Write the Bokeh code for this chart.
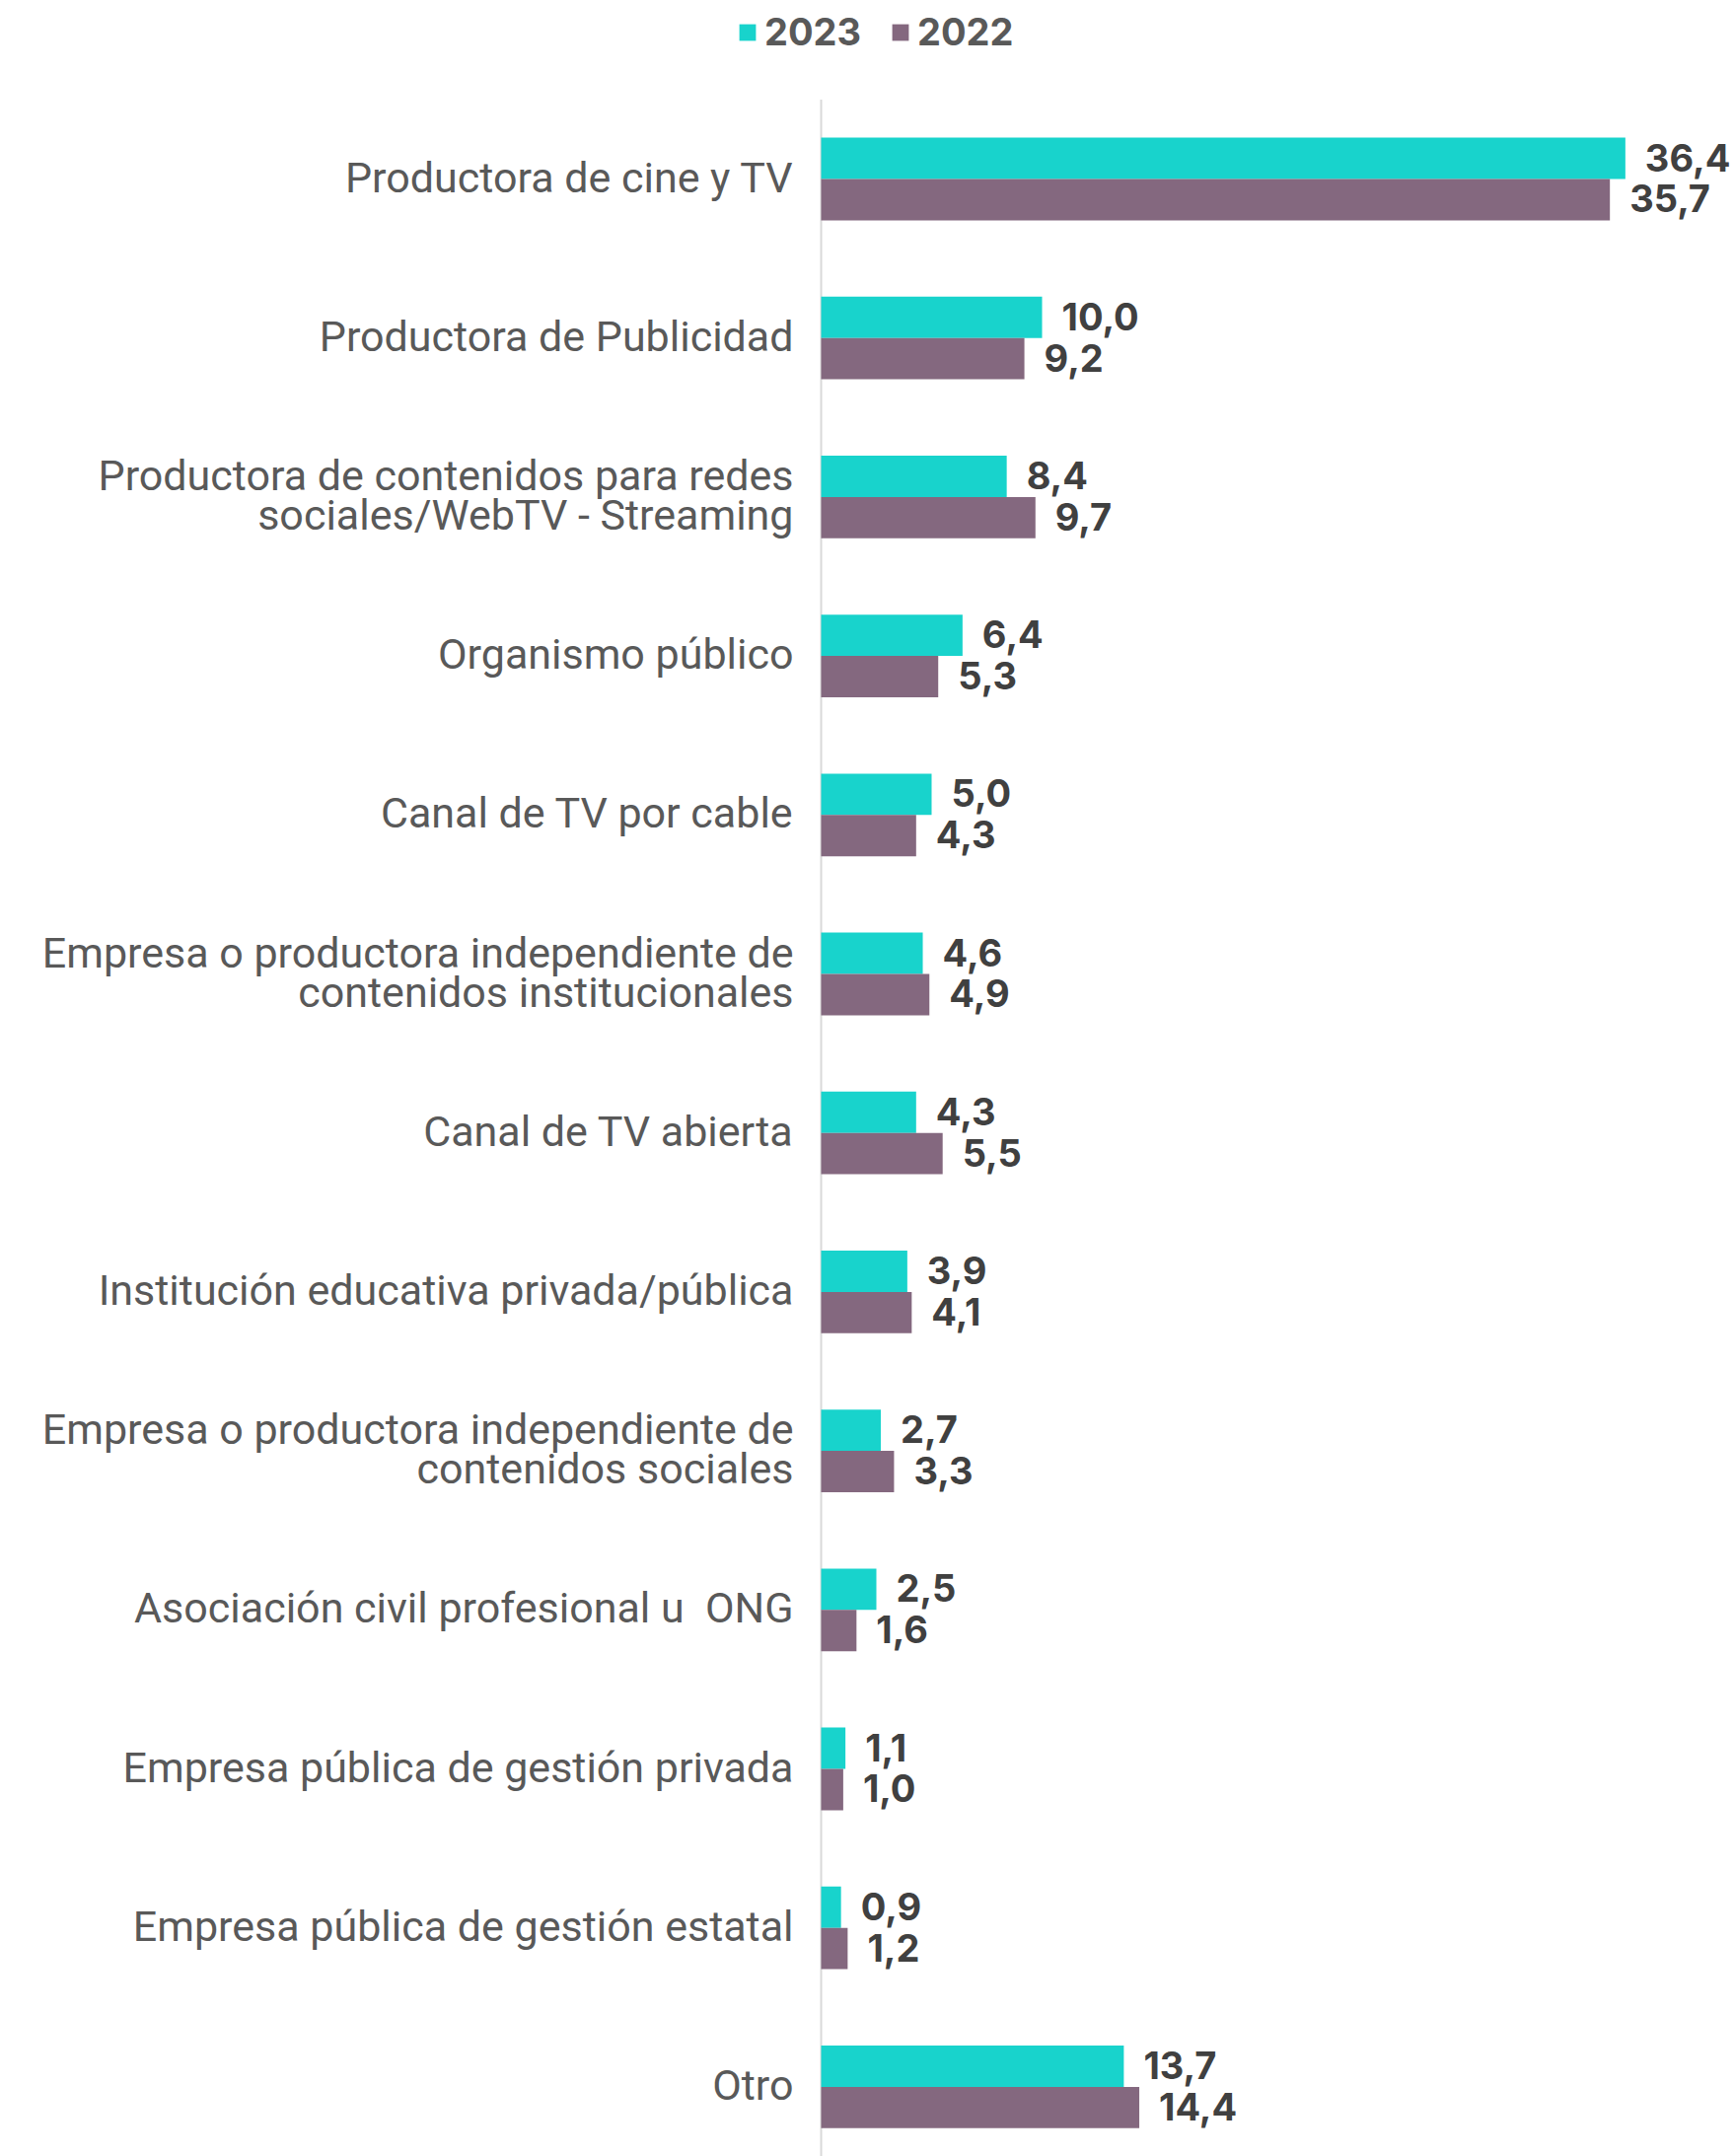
from bokeh.plotting import figure
from bokeh.models import ColumnDataSource, Range1d, Legend, LegendItem
from bokeh.core.properties import value
from bokeh.embed import file_html
from bokeh.resources import INLINE

# ---- data ----
categories = [
    "Productora de cine y TV",
    "Productora de Publicidad",
    "Productora de contenidos para redes\nsociales/WebTV - Streaming",
    "Organismo público",
    "Canal de TV por cable",
    "Empresa o productora independiente de\ncontenidos institucionales",
    "Canal de TV abierta",
    "Institución educativa privada/pública",
    "Empresa o productora independiente de\ncontenidos sociales",
    "Asociación civil profesional u \u00a0ONG",
    "Empresa pública de gestión privada",
    "Empresa pública de gestión estatal",
    "Otro",
]
series_names = ["2023", "2022"]
values_2023 = [36.4, 10.0, 8.4, 6.4, 5.0, 4.6, 4.3, 3.9, 2.7, 2.5, 1.1, 0.9, 13.7]
values_2022 = [35.7, 9.2, 9.7, 5.3, 4.3, 4.9, 5.5, 4.1, 3.3, 1.6, 1.0, 1.2, 14.4]

# ---- style ----
TEAL = "#18d3cc"
PURPLE = "#84687f"
CAT_COLOR = "#595959"
VAL_COLOR = "#404040"
BAR_H = 0.26

W, H = 1758, 2186
PX_PER_UNIT = 22.4
AXIS_X = 832              # canvas px of the zero line
CAT_PITCH = 161.2
FIRST_CENTER = 181        # canvas px of first category centre

x0 = -AXIS_X / PX_PER_UNIT
x1 = x0 + W / PX_PER_UNIT
y_top = -FIRST_CENTER / CAT_PITCH
y_bottom = (H - FIRST_CENTER) / CAT_PITCH

idx = list(range(len(categories)))
fmt = lambda v: f"{v:.1f}".replace(".", ",")

src23 = ColumnDataSource(dict(y=[i - BAR_H / 2 for i in idx], x=values_2023,
                              lab=[fmt(v) for v in values_2023]))
src22 = ColumnDataSource(dict(y=[i + BAR_H / 2 for i in idx], x=values_2022,
                              lab=[fmt(v) for v in values_2022]))
srccat = ColumnDataSource(dict(y=idx, x=[0] * len(idx), lab=categories))

p = figure(width=W, height=H, output_backend="svg", toolbar_location=None,
           x_range=Range1d(x0, x1), y_range=Range1d(y_bottom, y_top),
           min_border=0, min_border_left=0, min_border_right=0,
           min_border_top=0, min_border_bottom=0)
p.xaxis.visible = False
p.yaxis.visible = False
p.xgrid.visible = False
p.ygrid.visible = False
p.outline_line_color = None
p.background_fill_color = "white"
p.border_fill_color = "white"

# zero line
p.segment(x0=[0], y0=[-0.5], x1=[0], y1=[len(categories) - 0.5],
          line_color="#d9d9d9", line_width=2)

r23 = p.hbar(y="y", right="x", left=0, height=BAR_H, source=src23,
             fill_color=TEAL, line_color=None)
r22 = p.hbar(y="y", right="x", left=0, height=BAR_H, source=src22,
             fill_color=PURPLE, line_color=None)

for s in (src23, src22):
    p.text(x="x", y="y", text="lab", source=s, x_offset=20, y_offset=-1,
           text_align="left", text_baseline="middle",
           text_font=value("Inter"), text_font_style="bold",
           text_font_size="38px", text_color=VAL_COLOR)

p.text(x="x", y="y", text="lab", source=srccat, x_offset=-28, y_offset=-2,
       text_align="right", text_baseline="middle",
       text_font=value("Roboto"), text_font_size="43px",
       text_color=CAT_COLOR, text_line_height=0.8)

legend = Legend(items=[LegendItem(label=series_names[0], renderers=[r23]),
                       LegendItem(label=series_names[1], renderers=[r22])],
                orientation="horizontal", location=(747, H - 55),
                glyph_width=21, glyph_height=21, label_standoff=7,
                spacing=29, padding=0, margin=0,
                border_line_color=None, background_fill_alpha=0,
                label_text_font="Inter", label_text_font_style="bold",
                label_text_font_size="38px", label_text_color=CAT_COLOR)
p.add_layout(legend)

open("out.html", "w").write(file_html(p, INLINE))
